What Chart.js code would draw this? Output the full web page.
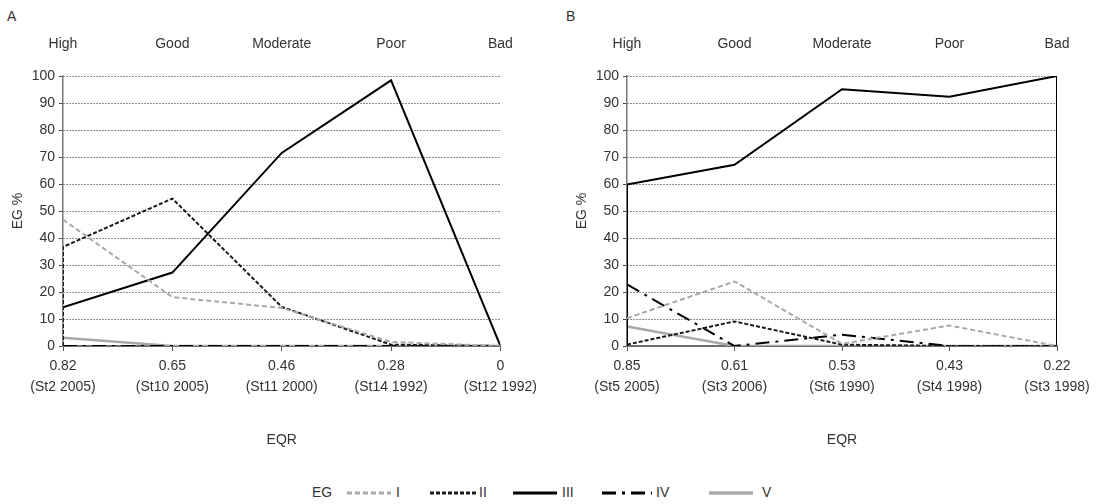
<!doctype html>
<html lang="en">
<head>
<meta charset="utf-8" />
<title>EG % along the EQR gradient</title>
<script src="https://cdn.jsdelivr.net/npm/chart.js@4"></script>
<style>
  body { margin: 0; width: 1098px; height: 504px; position: relative; overflow: hidden; background: #fff;
         font-family: "Liberation Sans", Arial, sans-serif; color: #333; }
  canvas { position: absolute; top: 0; }
  .tag { position: absolute; top: 8px; font-size: 14px; line-height: 17px; }
  .item { position: absolute; top: 483px; height: 18px; font-size: 14px; line-height: 18px; white-space: nowrap; }
  .item svg { position: absolute; top: 7px; }
</style>
</head>
<body>
<div class="tag" style="left:7px">A</div>
<div class="tag" style="left:566px">B</div>
<canvas id="panelA" width="542" height="470" style="left:0"></canvas>
<canvas id="panelB" width="534" height="470" style="left:564px"></canvas>
<div id="legend"></div>
<script>
// ecological status classes shown along the top axis
const statusClasses = ["High", "Good", "Moderate", "Poor", "Bad"];
const groups = ["I", "II", "III", "IV", "V"];

// panel A: EQR value and station/year per column
const eqrA = ["0.82", "0.65", "0.46", "0.28", "0"];
const stationsA = ["(St2 2005)", "(St10 2005)", "(St11 2000)", "(St14 1992)", "(St12 1992)"];
const a_I = [46.8, 18.1, 14.1, 1.5, 0];
const a_II = [36.7, 54.6, 14.5, 0.5, 0];
const a_III = [14.3, 27.2, 71.5, 98.4, 0];
const a_IV = [0, 0, 0, 0, 0];
const a_V = [3.1, 0, 0, 0, 0];
const closedA = ["II"];   // series drawn down to the baseline at both ends

// panel B
const eqrB = ["0.85", "0.61", "0.53", "0.43", "0.22"];
const stationsB = ["(St5 2005)", "(St3 2006)", "(St6 1990)", "(St4 1998)", "(St3 1998)"];
const b_I = [10.3, 23.9, 0.8, 7.6, 0];
const b_II = [0.5, 9.1, 0.5, 0, 0];
const b_III = [59.8, 67.1, 95.1, 92.3, 100];
const b_IV = [22.8, 0, 4.2, 0, 0];
const b_V = [7.2, 0, 0, 0, 0];
const closedB = ["III"];

const groupStyle = {
  I:   { color: "#a8a8a8", dash: [5, 3], width: 2 },
  II:  { color: "#1a1a1a", dash: [4, 2], width: 2 },
  III: { color: "#000000", dash: [], width: 2 },
  IV:  { color: "#000000", dash: [14, 6, 3, 6], width: 2 },
  V:   { color: "#a8a8a8", dash: [], width: 2.5 },
};

const FONT = { family: "'Liberation Sans', Arial, sans-serif", size: 14 };
const TEXT = "#333";

function fixedTicks(scale) {
  scale.ticks = statusClasses.map((_, i) => ({ value: i }));
}

function makePanel(id, eqr, stations, values, closed, padRight) {
  const last = statusClasses.length - 1;
  const datasets = groups.map((g, gi) => {
    const pts = values[gi].map((v, i) => ({ x: i, y: v }));
    if (closed.includes(g)) {
      pts.unshift({ x: 0, y: 0 });
      pts.push({ x: last, y: 0 });
    }
    const st = groupStyle[g];
    return {
      label: g, data: pts, borderColor: st.color, borderDash: st.dash, borderWidth: st.width,
      pointRadius: 0, fill: false, tension: 0,
    };
  });

  return new Chart(document.getElementById(id), {
    type: "line",
    data: { datasets },
    options: {
      responsive: false,
      animation: false,
      layout: { padding: { left: 0, right: padRight, top: 0, bottom: 0 } },
      plugins: { legend: { display: false }, tooltip: { enabled: false } },
      scales: {
        x: {
          type: "linear", position: "bottom", min: 0, max: last,
          afterBuildTicks: fixedTicks,
          afterFit: (s) => { s.height = 124; },
          ticks: {
            callback: (v) => [eqr[v], stations[v]],
            color: TEXT, font: { ...FONT, lineHeight: 1.5 }, padding: 5, maxRotation: 0, autoSkip: false,
          },
          grid: { drawOnChartArea: false, drawTicks: true, tickLength: 5, tickColor: "#555", tickWidth: 1 },
          border: { color: "#6e6e6e", width: 2 },
          title: { display: true, text: "EQR", color: TEXT, font: FONT, padding: { top: 0, bottom: 21 } },
        },
        xTop: {
          type: "linear", position: "top", min: 0, max: last,
          afterBuildTicks: fixedTicks,
          afterFit: (s) => { s.height = 76; },
          ticks: { callback: (v) => statusClasses[v], color: TEXT, font: FONT, padding: 23, maxRotation: 0, autoSkip: false },
          grid: { display: false, drawTicks: false },
          border: { display: false },
        },
        y: {
          min: 0, max: 100,
          afterFit: (s) => { s.width = 63; },
          ticks: { stepSize: 10, padding: 4, color: TEXT, font: FONT },
          grid: { color: "#222", lineWidth: 1, drawTicks: true, tickLength: 4, tickColor: "#444", tickWidth: 1 },
          border: { color: "#777", width: 1.5, dash: [1, 2] },
          title: { display: true, text: "EG %", color: TEXT, font: FONT, padding: { top: 10, bottom: 0 } },
        },
      },
    },
  });
}

makePanel("panelA", eqrA, stationsA, [a_I, a_II, a_III, a_IV, a_V], closedA, 40);
makePanel("panelB", eqrB, stationsB, [b_I, b_II, b_III, b_IV, b_V], closedB, 41);

// shared legend underneath both panels
const legend = document.getElementById("legend");
const eg = document.createElement("div");
eg.className = "item";
eg.style.left = "312px";
eg.textContent = "EG";
legend.appendChild(eg);
const sampleSpan = [[347, 391], [430, 476], [513, 557], [602, 652], [709, 753]];
const labelLeft = [396, 479, 562, 656, 762];
groups.forEach((g, i) => {
  const st = groupStyle[g];
  const [x0, x1] = sampleSpan[i];
  const w = x1 - x0;
  const line = document.createElement("div");
  line.className = "item";
  line.style.left = x0 + "px";
  line.innerHTML =
    `<svg width="${w}" height="6"><line x1="0" y1="3" x2="${w}" y2="3" stroke="${st.color}" stroke-width="${st.width + 1}"` +
    ` stroke-dasharray="${st.dash.join(" ") || "none"}"/></svg>`;
  legend.appendChild(line);
  const lab = document.createElement("div");
  lab.className = "item";
  lab.style.left = labelLeft[i] + "px";
  lab.textContent = g;
  legend.appendChild(lab);
});
</script>
</body>
</html>
